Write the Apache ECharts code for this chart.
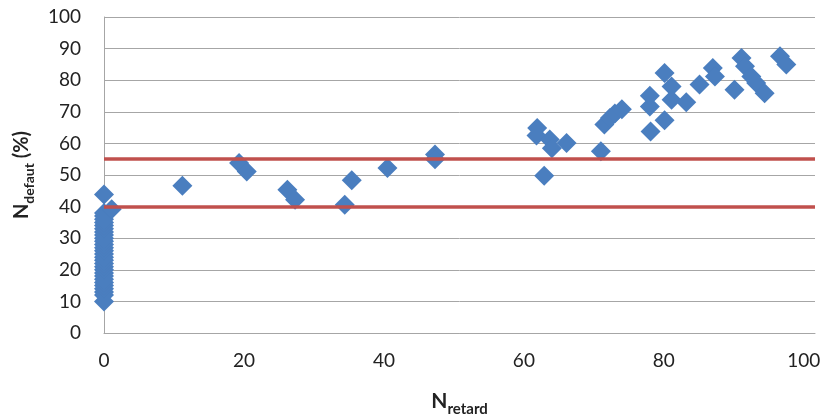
<!DOCTYPE html>
<html>
<head>
<meta charset="utf-8">
<script src="https://cdn.jsdelivr.net/npm/echarts@6/dist/echarts.min.js"></script>
<style>html,body{margin:0;padding:0;background:#fff}#c{width:835px;height:419px}</style>
</head>
<body>
<div id="c"></div>
<script>
// N_retard values
const xValues = [
  0,0,0,0,0,0,0,0,0,0,0,0,0,0,0,0,0,0,0,0,0,0,0,0,0,0,0,0,
  0, 1.1,
  11.2, 19.3, 20.4, 26.2, 27.3, 34.4, 35.4, 40.5, 47.3, 47.3,
  61.9, 61.8, 63.7, 64, 66.1, 62.9, 71, 71.5, 72.3, 73, 74,
  78.1, 80.1, 78, 78, 80.1, 81.1, 81.1, 83.2, 85.1, 87, 87.3,
  90.1, 91.1, 91.6, 92.5, 93.2, 94.4, 96.6, 97.5
];
// N_defaut (%) values
const yValues = [
  10,12,13,14,15,16,17,18,19,20,21,22,23,24,25,26,27,28,29,30,31,32,33,34,35,36,37,38,
  43.8, 39.2,
  46.6, 53.8, 51.1, 45.3, 42.2, 40.6, 48.3, 52.2, 56.5, 55,
  64.9, 62.5, 61.2, 58.5, 60.1, 49.8, 57.5, 66, 68, 69.5, 70.8,
  63.8, 67.3, 71.7, 75.1, 82.3, 78, 73.8, 73, 78.6, 83.9, 81.2,
  77, 87, 84.4, 81.2, 79.1, 75.9, 87.6, 85
];
const thresholds = [40, 55];
const xTicks = [0, 20, 40, 60, 80, 100];
const yTicks = [0, 10, 20, 30, 40, 50, 60, 70, 80, 90, 100];

const points = xValues.map((x, i) => [x, yValues[i]]);
const font = 'Lato, "Open Sans", sans-serif';

const chart = echarts.init(document.getElementById('c'), null, {renderer: 'canvas'});
chart.setOption({
  animation: false,
  backgroundColor: '#ffffff',
  grid: {left: 104, top: 17, right: 20, bottom: 86, containLabel: false, outerBoundsMode: 'none'},
  xAxis: {
    type: 'value', min: 0, max: 101.6, interval: 20,
    axisLine: {show: true, lineStyle: {color: '#A6A6A6', width: 1}},
    axisTick: {show: false},
    splitLine: {show: false},
    axisLabel: {
      show: true, margin: 18, fontSize: 19, color: '#222', fontFamily: font,
      showMaxLabel: false,
      formatter: v => xTicks.includes(v) ? String(v) : ''
    },
    name: '{n|N}{s|retard}',
    nameLocation: 'middle', nameGap: 58,
    nameTextStyle: {
      rich: {
        n: {fontSize: 21, fontWeight: 'bold', color: '#222', fontFamily: font, verticalAlign: 'bottom', padding: [0, 0, 5, 0]},
        s: {fontSize: 15, fontWeight: 'bold', color: '#222', fontFamily: font, verticalAlign: 'bottom'}
      }
    }
  },
  yAxis: {
    type: 'value', min: 0, max: 100, interval: 10,
    axisLine: {show: true, lineStyle: {color: '#A6A6A6', width: 1}},
    axisTick: {show: false},
    splitLine: {show: true, lineStyle: {color: '#A6A6A6', width: 1}},
    axisLabel: {
      margin: 23, fontSize: 19, color: '#222', fontFamily: font,
      formatter: v => yTicks.includes(v) ? String(v) : ''
    },
    name: '{n|N}{s|defaut}{n| (%)}',
    nameLocation: 'middle', nameGap: 68, nameRotate: 90,
    nameTextStyle: {
      rich: {
        n: {fontSize: 20, fontWeight: 'bold', color: '#222', fontFamily: font, verticalAlign: 'bottom', padding: [0, 0, 4, 0]},
        s: {fontSize: 14, fontWeight: 'bold', color: '#222', fontFamily: font, verticalAlign: 'bottom'}
      }
    }
  },
  series: [{
    type: 'scatter',
    data: points,
    symbol: 'diamond',
    symbolSize: 20,
    itemStyle: {color: '#4A7EBF', opacity: 1},
    markLine: {
      silent: true,
      symbol: ['none', 'none'],
      label: {show: false},
      lineStyle: {color: '#C0504D', width: 3.5, type: 'solid'},
      data: thresholds.map(t => ({yAxis: t}))
    },
    z: 3
  }]
});
</script>
</body>
</html>
